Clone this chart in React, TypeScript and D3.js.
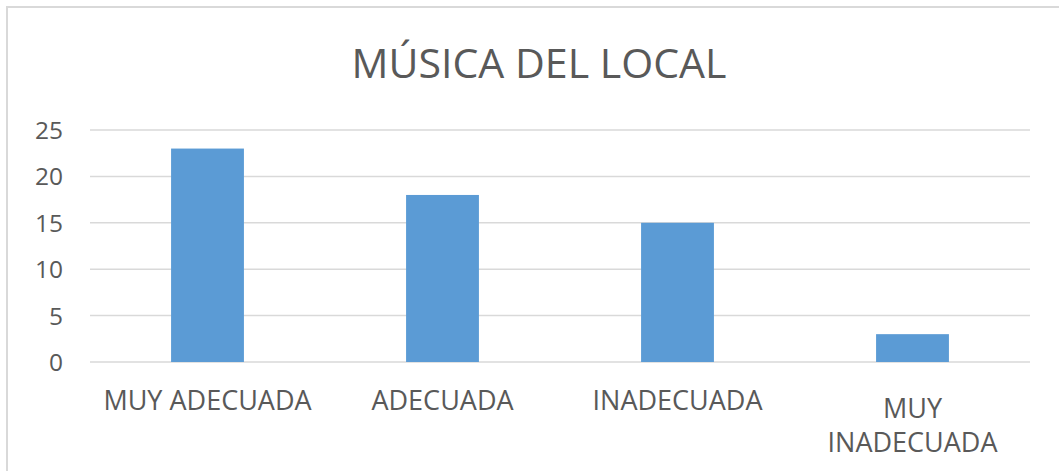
import React from "react";
import * as d3 from "d3";

const title = "MÚSICA DEL LOCAL";
const categories = ["MUY ADECUADA", "ADECUADA", "INADECUADA", "MUY\nINADECUADA"];
const values = [23, 18, 15, 3];
const yTicks = [0, 5, 10, 15, 20, 25];

const W = 1059;
const H = 471;
const FONT = "'Open Sans', sans-serif";
const TEXT = "#595959";
const GRID = "#d9d9d9";
const BAR = "#5b9bd5";

export default function App() {
  const left = 90;
  const right = 1030;
  const top = 130;
  const bottom = 362;

  const x = d3.scaleBand<string>()
    .domain(categories)
    .range([left, right])
    .paddingInner(0.69)
    .paddingOuter(0.345);
  const y = d3.scaleLinear().domain([0, 25]).range([bottom, top]);

  return (
    <svg width={W} height={H} style={{ position: "absolute", left: 0, top: 0 }}>
      <rect x={0} y={0} width={W} height={H} fill="#fff" />
      <rect x={7} y={7} width={W + 20} height={H + 20} fill="#fff" stroke={GRID} strokeWidth={2} />
      <text x={539} y={78} textAnchor="middle" fontFamily={FONT} fontSize={40} fill={TEXT}
        textLength={375} lengthAdjust="spacingAndGlyphs">{title}</text>
      {yTicks.map((t) => (
        <g key={t}>
          <line x1={left} x2={right} y1={y(t)} y2={y(t)} stroke={GRID} strokeWidth={1.5} />
          <text x={63} y={y(t) + 9} textAnchor="end" fontFamily={FONT} fontSize={24.5} fill={TEXT}>{t}</text>
        </g>
      ))}
      {categories.map((c, i) => (
        <rect key={c} x={x(c)} y={y(values[i])} width={x.bandwidth()} height={y(0) - y(values[i])} fill={BAR} />
      ))}
      {categories.map((c) => {
        const lines = c.split("\n");
        const cx = (x(c) as number) + x.bandwidth() / 2;
        const baseY = lines.length > 1 ? 418 : 410;
        return (
          <g key={c}>
            {lines.map((l, j) => (
              <text key={j} x={cx} y={baseY + j * 34} textAnchor="middle" fontFamily={FONT} fontSize={27} fill={TEXT}>{l}</text>
            ))}
          </g>
        );
      })}
    </svg>
  );
}
